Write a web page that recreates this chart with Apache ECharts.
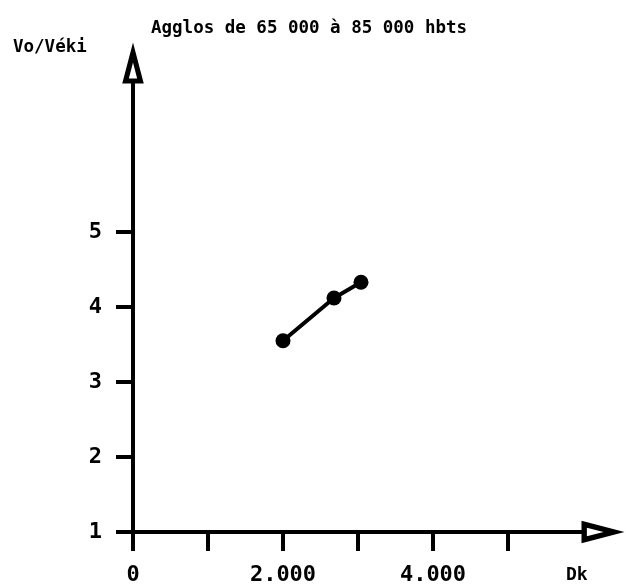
<!DOCTYPE html>
<html>
<head>
<meta charset="utf-8">
<script src="https://cdn.jsdelivr.net/npm/echarts@6/dist/echarts.min.js"></script>
<style>
html,body{margin:0;padding:0;background:#fff;}
#chart{width:626px;height:587px;}
</style>
</head>
<body>
<div id="chart"></div>
<script>
// Data
const dkValues = [2.0, 2.68, 3.04];
const voVekiValues = [3.55, 4.12, 4.33];
const xTickValues = [0, 1, 2, 3, 4, 5];
const xLabelValues = [0, 2, 4];
const xLabelTexts = ['0', '2.000', '4.000'];
const yTickValues = [1, 2, 3, 4, 5];
const yLabelTexts = ['1', '2', '3', '4', '5'];
const titleText = 'Agglos de 65 000 à 85 000 hbts';
const xName = 'Dk';
const yName = 'Vo/Véki';

const FONT = '"DejaVu Sans Mono", monospace';
const arrowPath = 'path://M21,0 L42,80 L0,80 Z M21,39 L12.9,70 L29.1,70 Z';

const chart = echarts.init(document.getElementById('chart'), null, {renderer: 'canvas'});
chart.setOption({
  backgroundColor: '#ffffff',
  animation: false,
  title: {
    text: titleText,
    left: 146,
    top: 14,
    textStyle: {fontFamily: FONT, fontWeight: 'bold', fontSize: 17.5, color: '#000'}
  },
  grid: {left: 133, right: 43, top: 82, bottom: 55, containLabel: false},
  xAxis: {
    type: 'value',
    min: 0, max: 6,
    splitLine: {show: false},
    axisLine: {
      show: true, onZero: false,
      lineStyle: {color: '#000', width: 4},
      symbol: ['none', arrowPath],
      symbolSize: [28, 43],
      symbolOffset: [0, 20]
    },
    axisTick: {show: true, length: 19, lineStyle: {color: '#000', width: 4}, customValues: xTickValues},
    axisLabel: {
      margin: 32,
      customValues: xLabelValues,
      formatter: function (v) { const i = xLabelValues.indexOf(v); return i >= 0 ? xLabelTexts[i] : ''; },
      fontFamily: FONT, fontWeight: 'bold', fontSize: 22, color: '#000'
    }
  },
  yAxis: {
    type: 'value',
    min: 1, max: 7,
    splitLine: {show: false},
    axisLine: {
      show: true, onZero: false,
      lineStyle: {color: '#000', width: 4},
      symbol: ['none', arrowPath],
      symbolSize: [28, 41],
      symbolOffset: [0, 19]
    },
    axisTick: {show: true, length: 17, lineStyle: {color: '#000', width: 4}, customValues: yTickValues},
    axisLabel: {
      margin: 31,
      customValues: yTickValues,
      formatter: function (v) { const i = yTickValues.indexOf(v); return i >= 0 ? yLabelTexts[i] : ''; },
      fontFamily: FONT, fontWeight: 'bold', fontSize: 22, color: '#000'
    }
  },
  graphic: [
    {type: 'text', left: 13, top: 38, style: {text: yName, font: 'bold 17.5px ' + FONT, fill: '#000'}},
    {type: 'text', left: 566, top: 566, style: {text: xName, font: 'bold 18px ' + FONT, fill: '#000'}}
  ],
  series: [{
    type: 'line',
    data: dkValues.map((x, i) => [x, voVekiValues[i]]),
    symbol: 'circle',
    symbolSize: 15,
    lineStyle: {color: '#000', width: 4},
    itemStyle: {color: '#000'}
  }]
});
</script>
</body>
</html>
